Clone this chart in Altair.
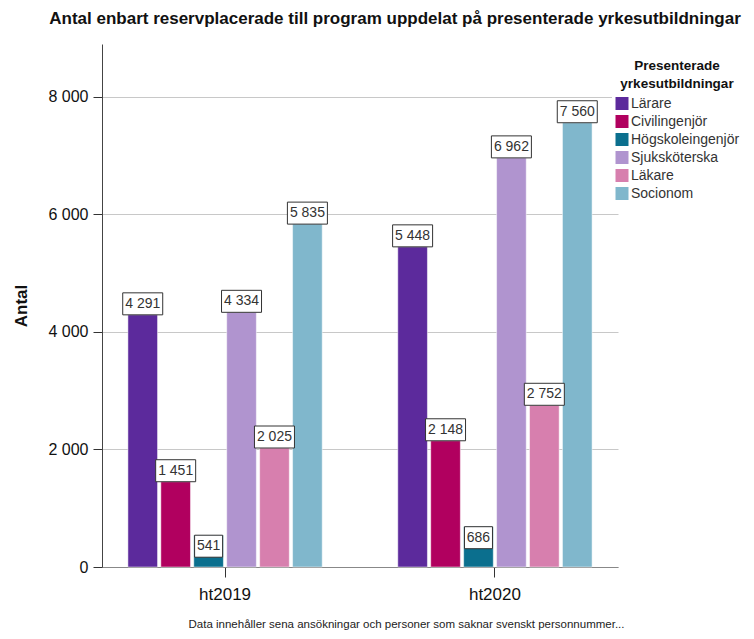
import altair as alt
import pandas as pd

terms = ["ht2019", "ht2020"]
programs = ["Lärare", "Civilingenjör", "Högskoleingenjör", "Sjuksköterska", "Läkare", "Socionom"]
colors = ["#5c2a9c", "#b1005f", "#0b6f8e", "#b094cf", "#d77fae", "#80b7cc"]
values_2019 = [4291, 1451, 541, 4334, 2025, 5835]
values_2020 = [5448, 2148, 686, 6962, 2752, 7560]
y_ticks = [0, 2000, 4000, 6000, 8000]

rows = []
for term, vals in zip(terms, [values_2019, values_2020]):
    for p, v in zip(programs, vals):
        lab = f"{v:,}".replace(",", " ")
        rows.append({"term": term, "program": p, "value": v, "label": lab,
                     "w": "wide" if v >= 1000 else "narrow",
                     "inside": v < 1000})
df = pd.DataFrame(rows)

FONT = "Liberation Sans"
wide_path = "M-1,-0.55L1,-0.55L1,0.55L-1,0.55Z"
narrow_path = "M-0.7,-0.55L0.7,-0.55L0.7,0.55L-0.7,0.55Z"

x_enc = alt.X("term:N", sort=terms,
              scale=alt.Scale(paddingInner=0.28, paddingOuter=0.096),
              axis=alt.Axis(title="Data innehåller sena ansökningar och personer som saknar svenskt personnummer...",
                            titleFontSize=11.5, titleFontWeight="normal", titleColor="#222",
                            titleX=304, titleY=60, titleAlign="center", titleBaseline="alphabetic",
                            labelFontSize=17, labelColor="#111", labelPadding=9, labelAngle=0,
                            tickSize=10, tickColor="#333", domainColor="#888", grid=False))
xoff = alt.XOffset("program:N", sort=programs, scale=alt.Scale(paddingInner=0.1, paddingOuter=0))
y_enc = alt.Y("value:Q", scale=alt.Scale(domain=[0, 8900], nice=False),
              axis=alt.Axis(title="Antal", titleFontSize=17, titleFontWeight="bold", titleColor="#111",
                            titlePadding=17, values=y_ticks, labelFontSize=16, labelColor="#111",
                            labelPadding=5, tickSize=9, tickColor="#333", domainColor="#444",
                            gridColor="#c8c8c8",
                            labelExpr="replace(format(datum.value, ','), ',', ' ')"))

base = alt.Chart(df)

bars = base.mark_bar(stroke="white", strokeWidth=0.5).encode(
    x=x_enc, xOffset=xoff, y=y_enc,
    color=alt.Color("program:N", sort=programs,
                    scale=alt.Scale(domain=programs, range=colors),
                    legend=alt.Legend(title=["Presenterade", "yrkesutbildningar"],
                                      orient="none", legendX=510, legendY=12,
                                      titleFontSize=13.5, titleFontWeight="bold", titleColor="#111",
                                      titleAlign="center", titleAnchor="middle", titleLineHeight=18,
                                      titlePadding=6,
                                      labelFontSize=14, labelColor="#333", symbolType="square",
                                      symbolSize=169, symbolStrokeWidth=0, symbolOpacity=1,
                                      rowPadding=4, labelOffset=2,
                                      fillColor="white", padding=3)),
)

shape_enc = alt.Shape("w:N", scale=alt.Scale(domain=["wide", "narrow"], range=[wide_path, narrow_path]),
                      legend=None)

def label_layers(cond, off):
    b = base.transform_filter(cond).mark_point(
        filled=True, fill="white", stroke="#333", strokeWidth=1,
        opacity=1, size=1600, yOffset=off).encode(
        x=alt.X("term:N", sort=terms), xOffset=xoff, y="value:Q", shape=shape_enc)
    t = base.transform_filter(cond).mark_text(
        fontSize=14, font=FONT, color="#333", baseline="middle", dy=off).encode(
        x=alt.X("term:N", sort=terms), xOffset=xoff, y="value:Q", text="label:N")
    return [b, t]

layers = [bars] + label_layers("!datum.inside", -11) + label_layers("datum.inside", 11)

chart = alt.layer(*layers).properties(
    width=516, height=523,
    title=alt.Title("Antal enbart reservplacerade till program uppdelat på presenterade yrkesutbildningar",
                    fontSize=17, font=FONT, fontWeight="bold", color="#111", anchor="middle",
                    dx=35, offset=16),
    autosize=alt.AutoSizeParams(type="none"),
    padding={"left": 94, "top": 36, "right": 128, "bottom": 64},
).configure(font=FONT).configure_view(stroke=None)

chart.save("out.html", embed_options={"renderer": "svg", "actions": False})
